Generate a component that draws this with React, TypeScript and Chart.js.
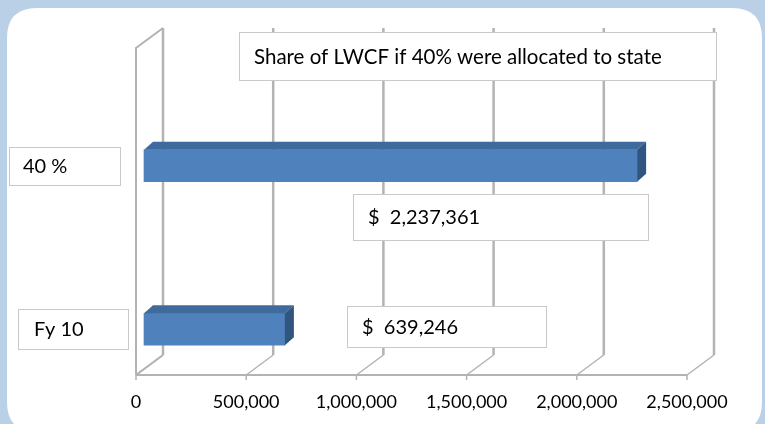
import React, { useEffect, useRef } from 'react';
import { Chart, registerables } from 'chart.js';

Chart.register(...registerables);

// ---- data ----
const categories: string[] = ['40 %', 'Fy 10'];
const values: number[] = [2237361, 639246];
const valueLabels: string[] = ['$  2,237,361', '$  639,246'];
const chartTitle = 'Share of LWCF if 40% were allocated to state';
const axisMin = 0;
const axisMax = 2500000;
const axisStep = 500000;

// ---- style / layout constants ----
const FONT = 'Lato, "Open Sans", sans-serif';
const BG = '#b9d0e6';
const BAR = '#4f81bd';
const BAR_TOP = '#3f6a9c';
const BAR_SIDE = '#30557f';
const GRID = '#b3b3b3';
const BOX_BORDER = '#c9c9c9';
const DEPTH = { dx: 27, dy: -20 }; // back wall offset
const BAR_DEPTH = { dx: 9, dy: -8 }; // bar top / side faces
const BAR_SHIFT = { dx: 8, dy: 36 }; // bar row plane offset
const titleBox = { x: 239, y: 32, w: 477, h: 48, tx: 15, size: 20.5 };
const catBoxes = [
  { x: 9, w: 111, h: 38, tx: 14 },
  { x: 18, w: 110, h: 40, tx: 16 },
];
const valBoxes = [
  { x: 353, y: 194, w: 295, h: 46, tx: 15 },
  { x: 347, y: 306, w: 199, h: 41, tx: 15 },
];

function roundRect(ctx: CanvasRenderingContext2D, x: number, y: number, w: number, h: number, r: number) {
  ctx.beginPath();
  ctx.moveTo(x + r, y);
  ctx.lineTo(x + w - r, y);
  ctx.quadraticCurveTo(x + w, y, x + w, y + r);
  ctx.lineTo(x + w, y + h - r);
  ctx.quadraticCurveTo(x + w, y + h, x + w - r, y + h);
  ctx.lineTo(x + r, y + h);
  ctx.quadraticCurveTo(x, y + h, x, y + h - r);
  ctx.lineTo(x, y + r);
  ctx.quadraticCurveTo(x, y, x + r, y);
  ctx.closePath();
}

function textBox(ctx: CanvasRenderingContext2D, x: number, y: number, w: number, h: number, text: string, tx: number, size: number) {
  ctx.save();
  ctx.fillStyle = '#ffffff';
  ctx.fillRect(x, y, w, h);
  ctx.strokeStyle = BOX_BORDER;
  ctx.lineWidth = 1;
  ctx.strokeRect(x + 0.5, y + 0.5, w, h);
  ctx.fillStyle = '#000000';
  ctx.font = `${size}px ${FONT}`;
  ctx.textBaseline = 'middle';
  ctx.textAlign = 'left';
  ctx.fillText(text, x + tx, y + h / 2 + 1);
  ctx.restore();
}

const depthPlugin = {
  id: 'depth3d',
  beforeDraw(chart: any) {
    const { ctx, width, height } = chart;
    ctx.save();
    ctx.fillStyle = BG;
    ctx.fillRect(0, 0, width, height);
    ctx.fillStyle = '#ffffff';
    roundRect(ctx, 7, 8, 755, 424, 30);
    ctx.fill();
    ctx.restore();
  },
  beforeDatasetsDraw(chart: any) {
    const { ctx, chartArea: ca } = chart;
    const xs = chart.scales.x;
    const top = ca.top;
    const bottom = ca.bottom;
    ctx.save();
    ctx.strokeStyle = GRID;
    ctx.lineCap = 'butt';
    const x0 = xs.getPixelForValue(axisMin);
    // left wall
    ctx.lineWidth = 2;
    ctx.beginPath();
    ctx.moveTo(x0, bottom);
    ctx.lineTo(x0, top);
    ctx.lineTo(x0 + DEPTH.dx, top + DEPTH.dy);
    ctx.stroke();
    ctx.beginPath();
    ctx.moveTo(x0, bottom);
    ctx.lineTo(x0 + DEPTH.dx, bottom + DEPTH.dy);
    ctx.stroke();
    // back grid lines & floor diagonals
    xs.ticks.forEach((t: any) => {
      const fx = xs.getPixelForValue(t.value);
      const bx = fx + DEPTH.dx;
      ctx.lineWidth = 2.5;
      ctx.beginPath();
      ctx.moveTo(bx, top + DEPTH.dy);
      ctx.lineTo(bx, bottom + DEPTH.dy);
      ctx.stroke();
      ctx.lineWidth = 1.5;
      ctx.beginPath();
      ctx.moveTo(bx, bottom + DEPTH.dy);
      ctx.lineTo(fx, bottom);
      ctx.stroke();
      // tick mark
      ctx.beginPath();
      ctx.moveTo(fx, bottom);
      ctx.lineTo(fx, bottom + 5);
      ctx.stroke();
    });
    // front floor line
    ctx.lineWidth = 2;
    ctx.beginPath();
    ctx.moveTo(x0, bottom);
    ctx.lineTo(xs.getPixelForValue(axisMax), bottom);
    ctx.stroke();
    ctx.restore();
    // shift bars into their depth plane
    ctx.save();
    ctx.translate(BAR_SHIFT.dx, BAR_SHIFT.dy);
  },
  afterDatasetsDraw(chart: any) {
    const { ctx } = chart;
    const meta = chart.getDatasetMeta(0);
    meta.data.forEach((bar: any) => {
      const { x, y, base, height } = bar.getProps(['x', 'y', 'base', 'height'], true);
      const t = y - height / 2;
      const b = y + height / 2;
      ctx.fillStyle = BAR_TOP;
      ctx.beginPath();
      ctx.moveTo(base, t);
      ctx.lineTo(x, t);
      ctx.lineTo(x + BAR_DEPTH.dx, t + BAR_DEPTH.dy);
      ctx.lineTo(base + BAR_DEPTH.dx, t + BAR_DEPTH.dy);
      ctx.closePath();
      ctx.fill();
      ctx.fillStyle = BAR_SIDE;
      ctx.beginPath();
      ctx.moveTo(x, t);
      ctx.lineTo(x + BAR_DEPTH.dx, t + BAR_DEPTH.dy);
      ctx.lineTo(x + BAR_DEPTH.dx, b + BAR_DEPTH.dy);
      ctx.lineTo(x, b);
      ctx.closePath();
      ctx.fill();
    });
    ctx.restore();

    // title box
    textBox(ctx, titleBox.x, titleBox.y, titleBox.w, titleBox.h, chartTitle, titleBox.tx, titleBox.size);
    // category and value label boxes
    const ys = chart.scales.y;
    categories.forEach((c, i) => {
      const cy = ys.getPixelForValue(i) + BAR_SHIFT.dy;
      const cb = catBoxes[i];
      textBox(ctx, cb.x, Math.round(cy - cb.h / 2), cb.w, cb.h, c, cb.tx, 20);
      const vb = valBoxes[i];
      textBox(ctx, vb.x, vb.y, vb.w, vb.h, valueLabels[i], vb.tx, 20);
    });
  },
};

export default function App() {
  const canvasRef = useRef<HTMLCanvasElement | null>(null);

  useEffect(() => {
    const canvas = canvasRef.current;
    if (!canvas) return;
    const chart = new Chart(canvas, {
      type: 'bar',
      data: {
        labels: categories,
        datasets: [
          {
            data: values,
            backgroundColor: BAR,
            borderWidth: 0,
            barThickness: 32,
            clip: false as any,
          },
        ],
      },
      options: {
        indexAxis: 'y',
        animation: false,
        responsive: false,
        devicePixelRatio: 1,
        layout: { padding: { left: 136, right: 78, top: 48, bottom: 0 } },
        plugins: {
          legend: { display: false },
          tooltip: { enabled: false },
          title: { display: false },
        },
        scales: {
          x: {
            type: 'linear',
            min: axisMin,
            max: axisMax,
            grid: { display: false },
            border: { display: false },
            ticks: {
              stepSize: axisStep,
              padding: 8,
              color: '#000000',
              font: { family: FONT, size: 18 },
              maxRotation: 0,
              callback: (v: any) => Number(v).toLocaleString('en-US'),
            },
            afterFit: (s: any) => {
              s.height = 49;
            },
          },
          y: {
            type: 'category',
            display: false,
            offset: true,
          },
        },
      },
      plugins: [depthPlugin],
    });
    return () => chart.destroy();
  }, []);

  return (
    <div style={{ position: 'fixed', left: 0, top: 0, width: 765, height: 424 }}>
      <canvas ref={canvasRef} width={765} height={424} style={{ display: 'block' }} />
    </div>
  );
}
